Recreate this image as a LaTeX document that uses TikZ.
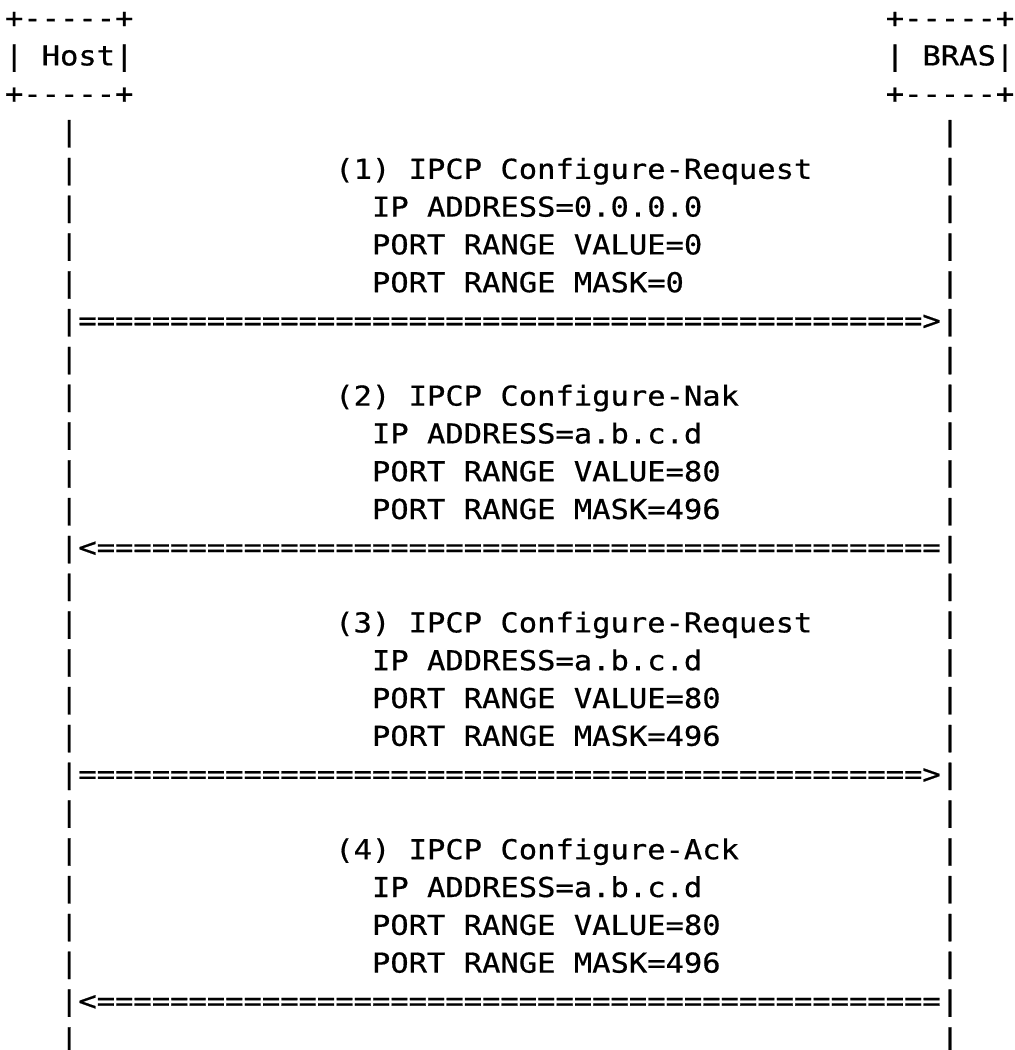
\documentclass[tikz,border=0pt]{standalone}
\usepackage{fontspec}
\newfontfamily\asciifont[FakeStretch=1.1124,FakeBold=0.6,Ligatures=TeXOff]{DejaVu Sans Mono}
\newcommand\asciisetup{\asciifont\fontsize{27.4pt}{37.8pt}\selectfont\spaceskip 18.35pt\relax}
\tikzset{
  ch/.style={anchor=base west, inner sep=0pt, outer sep=0pt, text=black,
    font=\asciisetup},
}
\begin{document}
\begin{tikzpicture}
\useasboundingbox[fill=white] (0pt,0pt) rectangle (1015pt,-1050pt);
\begin{scope}[x=18.35pt, y=-37.8pt, shift={(5pt,-27.6pt)}]
  % participant boxes
  \node[ch] (hostTop) at (0,0) {+-----+};
  \node[ch] (host)    at (0,1) {| Host|};
  \node[ch] (hostBot) at (0,2) {+-----+};
  \node[ch] (brasTop) at (48,0) {+-----+};
  \node[ch] (bras)    at (48,1) {| BRAS|};
  \node[ch] (brasBot) at (48,2) {+-----+};
  % lifelines
  \foreach \r in {3,...,27} {
    \node[ch] (hl\r) at (3,\r) {|};
    \node[ch] (bl\r) at (51,\r) {|};
  }
  % messages
  \node[ch] (m1) at (18,4) {(1) IPCP Configure-Request};
  \node[ch] (m1a) at (20,5) {IP ADDRESS=0.0.0.0};
  \node[ch] (m1b) at (20,6) {PORT RANGE VALUE=0};
  \node[ch] (m1c) at (20,7) {PORT RANGE MASK=0};
  \node[ch] (a1) at (4,8) {==============================================>};

  \node[ch] (m2) at (18,10) {(2) IPCP Configure-Nak};
  \node[ch] (m2a) at (20,11) {IP ADDRESS=a.b.c.d};
  \node[ch] (m2b) at (20,12) {PORT RANGE VALUE=80};
  \node[ch] (m2c) at (20,13) {PORT RANGE MASK=496};
  \node[ch] (a2) at (4,14) {<==============================================};

  \node[ch] (m3) at (18,16) {(3) IPCP Configure-Request};
  \node[ch] (m3a) at (20,17) {IP ADDRESS=a.b.c.d};
  \node[ch] (m3b) at (20,18) {PORT RANGE VALUE=80};
  \node[ch] (m3c) at (20,19) {PORT RANGE MASK=496};
  \node[ch] (a3) at (4,20) {==============================================>};

  \node[ch] (m4) at (18,22) {(4) IPCP Configure-Ack};
  \node[ch] (m4a) at (20,23) {IP ADDRESS=a.b.c.d};
  \node[ch] (m4b) at (20,24) {PORT RANGE VALUE=80};
  \node[ch] (m4c) at (20,25) {PORT RANGE MASK=496};
  \node[ch] (a4) at (4,26) {<==============================================};
\end{scope}
\end{tikzpicture}
\end{document}
